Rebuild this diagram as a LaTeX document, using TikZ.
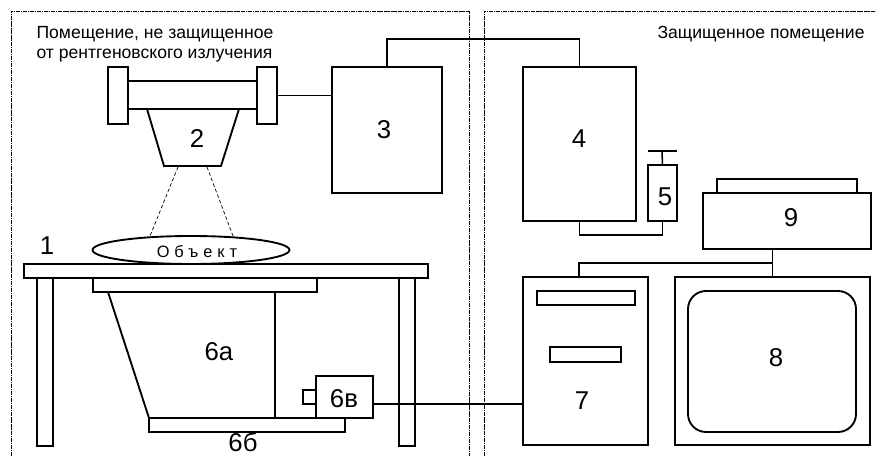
\documentclass[tikz,border=0pt]{standalone}
\usepackage{fontspec}
\setmainfont{Liberation Sans}
\newfontfamily\spacedfont[LetterSpace=30]{Liberation Sans}
\usetikzlibrary{calc,fit,shapes.geometric}

\tikzset{
	unit/.style={draw,line width=1.6pt,inner sep=0pt,outer sep=0pt},
	wire/.style={line width=1.3pt},
	room/.style={line width=0.7pt,dash pattern=on 1.5pt off 0.5pt},
	ray/.style={line width=0.6pt,densely dashed},
	numeral/.style={inner sep=0pt,font=\fontsize{22}{22}\selectfont},
	caption/.style={inner sep=0pt,align=left,font=\fontsize{15}{17}\selectfont}
}

\begin{document}
\begin{tikzpicture}[x=0.03cm,y=-0.03cm]
	\useasboundingbox (0,0) rectangle (876,456);

	\draw[room] (11,456) -- (11,11) -- (469,11) -- (469,456);
	\draw[room] (484,456) -- (484,11) -- (876,11);

	\node[caption] (roomA) at (155,44) {Помещение, не защищенное\\от рентгеновского излучения};
	\node[caption] (roomB) at (761,34) {Защищенное помещение};

	% tube
	\node[unit,fit={(128,81) (257,109)}] (tube) {};
	\node[unit,fit={(108,67) (128,124)}] (flangeL) {};
	\node[unit,fit={(257,67) (277,124)}] (flangeR) {};
	\draw[line width=1.6pt] (147,109) -- (164,166) -- (221,166) -- (239,109);
	\node[numeral] (lab2) at (197,139) {2};

	% object and table
	\node[unit,ellipse,minimum width=5.91cm,minimum height=0.84cm] (object) at (191,250) {};
	\node[inner sep=0pt,font=\spacedfont\fontsize{14}{16}\selectfont] (labObject) at (197,252) {Объект};
	\node[unit,fit={(24,264) (428,278)}] (table) {};
	\node[unit,fit={(37,278) (53,446)}] (legL) {};
	\node[unit,fit={(399,278) (415,446)}] (legR) {};
	\node[numeral] (lab1) at (47,246) {1};
	\coordinate (rayA) at (150,236);
	\coordinate (rayB) at (233,236);
	\draw[ray] (178,167) -- (rayA);
	\draw[ray] (207,167) -- (rayB);

	% receiver
	\node[unit,fit={(93,278) (317,292)}] (plate) {};
	\draw[line width=1.6pt] (108,292) -- (149,418);
	\draw[line width=1.6pt] (275,292) -- (275,418);
	\node[numeral] (lab6a) at (219,352) {6а};
	\node[unit,fit={(149,418) (345,432)}] (bar) {};
	\node[numeral] (lab6b) at (243,442) {6б};
	\node[unit,fit={(316,376) (373,418)}] (camera) {};
	\node[unit,fit={(303,390) (316,404)}] (lens) {};
	\node[numeral] (lab6c) at (344,399) {6в};

	% blocks
	\node[unit,fit={(332,67) (442,193)}] (box3) {};
	\node[numeral] (lab3) at (384,130) {3};
	\node[unit,fit={(523,67) (636,221)}] (box4) {};
	\node[numeral] (lab4) at (579,139) {4};
	\node[unit,fit={(648,165) (677,221)}] (box5) {};
	\node[numeral] (lab5) at (665,197) {5};
	\coordinate (handle) at (662,151);
	\draw[wire] (box5.north) -- (handle);
	\draw[wire] ($(handle)+(-14,0)$) -- ($(handle)+(15,0)$);

	\node[unit,fit={(703,193) (871,249)}] (box9) {};
	\node[unit,fit={(717,179) (857,193)}] (tray) {};
	\node[numeral] (lab9) at (791,218) {9};

	\node[unit,fit={(523,277) (648,445)}] (box7) {};
	\node[unit,fit={(537,291) (635,305)}] (slotA) {};
	\node[unit,fit={(550,347) (621,362)}] (slotB) {};
	\node[numeral] (lab7) at (582,401) {7};

	\node[unit,fit={(675,277) (870,445)}] (box8) {};
	\node[unit,rounded corners=0.54cm,fit={(688,291) (856,432)}] (screen) {};
	\node[numeral] (lab8) at (776,358) {8};

	% connections
	\coordinate (busA) at (480,39);
	\coordinate (busB) at (620,235);
	\coordinate (busC) at (772,263);
	\coordinate (top7) at (579,277);
	\coordinate (side7) at (523,404);
	\draw[wire] (flangeR.east) -- (flangeR.east -| box3.west);
	\draw[wire] (box3.north) |- (busA) -| (box4.north);
	\draw[wire] (box4.south) |- (busB) -| (box5.south);
	\draw[wire] (box9.south -| box8.north) -- (box8.north);
	\draw[wire] (busC) -| (top7);
	\draw[wire] (camera.east |- side7) -- (side7);
\end{tikzpicture}
\end{document}
